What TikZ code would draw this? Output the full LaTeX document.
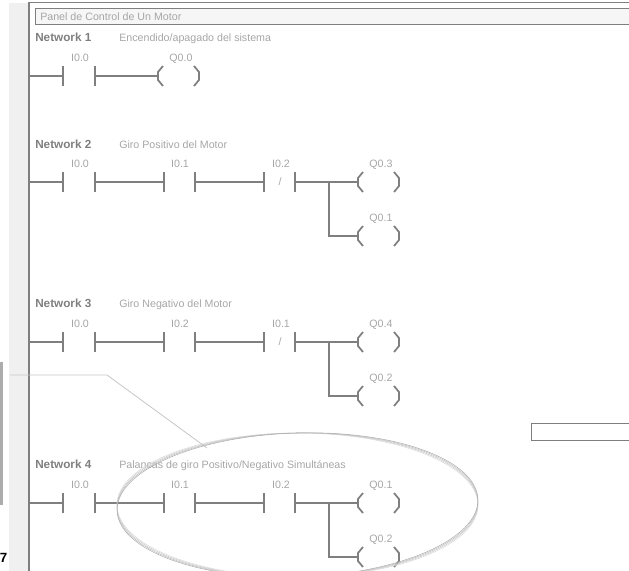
\documentclass[tikz,border=0pt]{standalone}
\usepackage{fontspec}
\setmainfont{Liberation Sans}
\definecolor{wiregray}{HTML}{7F7F7F}
\definecolor{textgray}{HTML}{A6A6A6}
\definecolor{stripegray}{HTML}{F0F0F0}
\definecolor{panelgray}{HTML}{F6F6F6}
\tikzset{
  wire/.style={draw=wiregray,line width=1.5pt},
  bar/.style={fill=wiregray,inner sep=0pt,minimum width=1.5pt,minimum height=15pt},
  netname/.style={anchor=base west,inner sep=0pt,text=wiregray,font=\fontsize{8.8}{10}\selectfont\bfseries},
  remark/.style={anchor=base west,inner sep=0pt,text=textgray,font=\fontsize{8}{10}\selectfont},
  addr/.style={anchor=base,inner sep=0pt,text=textgray,font=\fontsize{8}{10}\selectfont},
  slash/.style={inner sep=0pt,text=textgray,font=\fontsize{8}{10}\selectfont},
  coilpar/.pic={
    \draw[wire,line width=1.3pt] (6,-10) -- (1,-4) -- (1,4) -- (6,10);
    \draw[wire,line width=1.3pt] (37,-10) -- (42,-4) -- (42,4) -- (37,10);
  }
}
\begin{document}
\begin{tikzpicture}[x=0.75pt,y=-0.75pt]
\useasboundingbox (0,0) rectangle (629,571);

% window frame
\fill[stripegray] (9,3) rectangle (28,571);
\fill[gray!65] (0,362) rectangle (3,505);
\draw[wiregray,line width=0.75pt] (29,2.5) -- (629,2.5);
\fill[panelgray] (35.5,8.5) rectangle (629,24);
\draw[wiregray,line width=0.75pt] (629,8.5) -- (35.5,8.5) -- (35.5,24) -- (629,24);
\node[remark] (title) at (40,21) {Panel de Control de Un Motor};
\draw[wiregray,line width=0.75pt] (629,423.5) -- (531.5,423.5) -- (531.5,440) -- (629,440);
\node[inner sep=0pt,font=\fontsize{10}{12}\selectfont\bfseries] (seven) at (3.5,558) {7};

% Network 1
\node[netname] (net1) at (35,41) {Network 1};
\node[remark] (rem1) at (119,41) {Encendido/apagado del sistema};
\coordinate (rail1) at (29,76);
\node[bar] (c1a) at (63,76) {};
\node[bar] (c1b) at (95,76) {};
\coordinate (coil1) at (157,76);
\node[addr] (a1) at (80,61) {I0.0};
\node[addr] (q1) at (181,61) {Q0.0};
\draw[wire] (rail1) -- (c1a);
\draw[wire] (c1b) -- (coil1);
\pic at (coil1) {coilpar};

% Network 2
\node[netname] (net2) at (35,148) {Network 2};
\node[remark] (rem2) at (119,148) {Giro Positivo del Motor};
\coordinate (rail2) at (29,182);
\node[bar] (c2a) at (63,182) {};
\node[bar] (c2b) at (95,182) {};
\node[bar] (c2c) at (164,182) {};
\node[bar] (c2d) at (195,182) {};
\node[bar] (c2e) at (264,182) {};
\node[bar] (c2f) at (295,182) {};
\node[slash] (s2) at (280,182) {/};
\coordinate (coil2a) at (357,182);
\coordinate (coil2b) at (357,236);
\coordinate (fork2) at (329,182);
\coordinate (bend2) at (329,236);
\node[addr] (a2a) at (80,167) {I0.0};
\node[addr] (a2b) at (180,167) {I0.1};
\node[addr] (a2c) at (281,167) {I0.2};
\node[addr] (q2a) at (381,167) {Q0.3};
\node[addr] (q2b) at (381,221) {Q0.1};
\draw[wire] (rail2) -- (c2a);
\draw[wire] (c2b) -- (c2c);
\draw[wire] (c2d) -- (c2e);
\draw[wire] (c2f) -- (coil2a);
\draw[wire] (fork2) -- (bend2) -- (coil2b);
\pic at (coil2a) {coilpar};
\pic at (coil2b) {coilpar};

% Network 3
\node[netname] (net3) at (35,307) {Network 3};
\node[remark] (rem3) at (119,307) {Giro Negativo del Motor};
\coordinate (rail3) at (29,342);
\node[bar] (c3a) at (63,342) {};
\node[bar] (c3b) at (95,342) {};
\node[bar] (c3c) at (164,342) {};
\node[bar] (c3d) at (195,342) {};
\node[bar] (c3e) at (264,342) {};
\node[bar] (c3f) at (295,342) {};
\node[slash] (s3) at (280,342) {/};
\coordinate (coil3a) at (357,342);
\coordinate (coil3b) at (357,396);
\coordinate (fork3) at (329,342);
\coordinate (bend3) at (329,396);
\node[addr] (a3a) at (80,327) {I0.0};
\node[addr] (a3b) at (180,327) {I0.2};
\node[addr] (a3c) at (281,327) {I0.1};
\node[addr] (q3a) at (381,327) {Q0.4};
\node[addr] (q3b) at (381,381) {Q0.2};
\draw[wire] (rail3) -- (c3a);
\draw[wire] (c3b) -- (c3c);
\draw[wire] (c3d) -- (c3e);
\draw[wire] (c3f) -- (coil3a);
\draw[wire] (fork3) -- (bend3) -- (coil3b);
\pic at (coil3a) {coilpar};
\pic at (coil3b) {coilpar};

% Network 4
\node[netname] (net4) at (35,468) {Network 4};
\node[remark] (rem4) at (119,468) {Palancas de giro Positivo/Negativo Simultáneas};
\coordinate (rail4) at (29,503);
\node[bar] (c4a) at (63,503) {};
\node[bar] (c4b) at (95,503) {};
\node[bar] (c4c) at (164,503) {};
\node[bar] (c4d) at (195,503) {};
\node[bar] (c4e) at (264,503) {};
\node[bar] (c4f) at (295,503) {};
\coordinate (coil4a) at (357,503);
\coordinate (coil4b) at (357,557);
\coordinate (fork4) at (329,503);
\coordinate (bend4) at (329,557);
\node[addr] (a4a) at (80,488) {I0.0};
\node[addr] (a4b) at (180,488) {I0.1};
\node[addr] (a4c) at (281,488) {I0.2};
\node[addr] (q4a) at (381,488) {Q0.1};
\node[addr] (q4b) at (381,542) {Q0.2};
\draw[wire] (rail4) -- (c4a);
\draw[wire] (c4b) -- (c4c);
\draw[wire] (c4d) -- (c4e);
\draw[wire] (c4f) -- (coil4a);
\draw[wire] (fork4) -- (bend4) -- (coil4b);
\pic at (coil4a) {coilpar};
\pic at (coil4b) {coilpar};

% power rail on top of the rungs
\draw[wire] (29,2) -- (29,571);

% callout
\coordinate (leadA) at (10,375);
\coordinate (leadB) at (107,375);
\coordinate (leadC) at (207,448);
\draw[gray!45,line width=0.6pt] (leadA) -- (leadB) -- (leadC);
\begin{scope}
\clip (0,0) rectangle (629,571);
\draw[gray!30,line width=0.4pt] (297.5,505) ellipse [x radius=180.5,y radius=72];
\draw[gray!40,line width=0.4pt,rotate around={0.6:(297.5,505)}] (297.5,505) ellipse [x radius=180.5,y radius=72];
\draw[gray!50,line width=0.4pt,rotate around={1.2:(297.5,505)}] (297.5,505) ellipse [x radius=180.5,y radius=72];
\draw[gray!65,line width=0.4pt,rotate around={1.8:(297.5,505)}] (297.5,505) ellipse [x radius=180.5,y radius=72];
\end{scope}

\end{tikzpicture}
\end{document}
